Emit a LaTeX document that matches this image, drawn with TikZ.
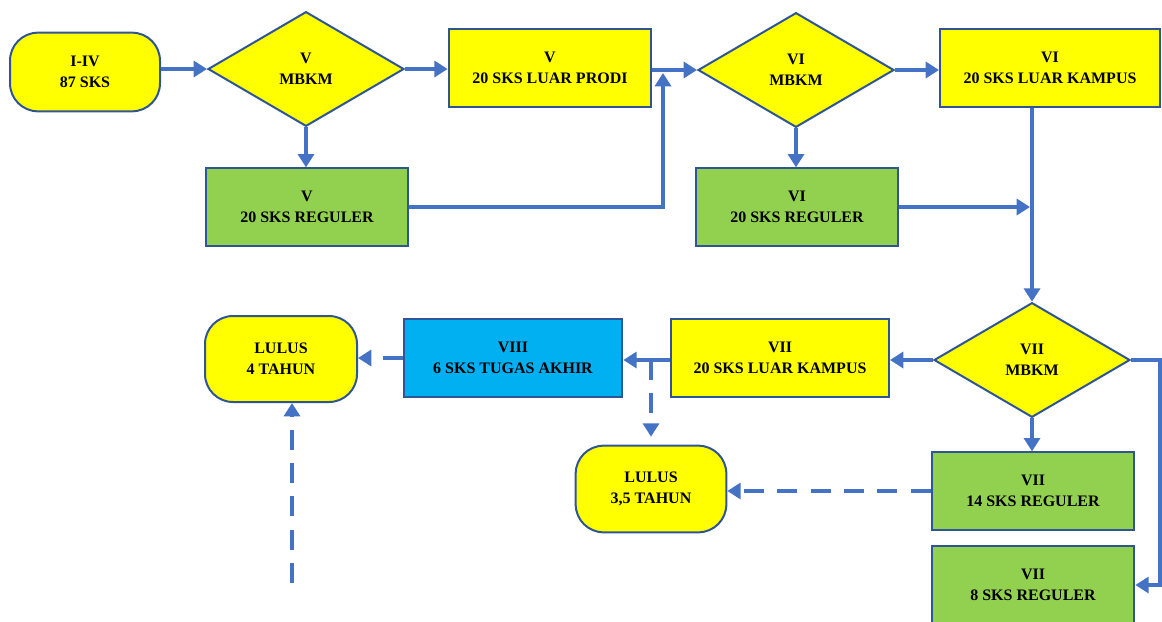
\documentclass[tikz,border=0pt]{standalone}
\usepackage{fontspec}
\setmainfont{Liberation Serif}
\usetikzlibrary{shapes.geometric,arrows.meta}
\definecolor{linkblue}{HTML}{4472C4}
\definecolor{edgeblue}{HTML}{2F5597}
\definecolor{boxyellow}{HTML}{FFFF00}
\definecolor{boxgreen}{HTML}{92D050}
\definecolor{boxcyan}{HTML}{00B0F0}
\begin{document}
\begin{tikzpicture}[x=0.75pt,y=-0.75pt,
 box/.style={draw=edgeblue,line width=1.5pt,align=center,font=\fontsize{12}{15.5}\selectfont\bfseries,inner sep=2pt},
 ybox/.style={box,fill=boxyellow,rectangle},
 gbox/.style={box,fill=boxgreen,rectangle},
 cbox/.style={box,fill=boxcyan,rectangle},
 term/.style={box,fill=boxyellow,rectangle,rounded corners=21pt},
 dec/.style={box,fill=boxyellow,diamond,minimum width=147pt,minimum height=86pt,inner sep=0pt},
 link/.style={draw=linkblue,line width=2.6pt,-{Triangle[length=10pt,width=12pt]}},
 dashlink/.style={link,dash pattern=on 15pt off 10pt}]
\useasboundingbox (0,0) rectangle (1162,621);
% nodes
\node[term,minimum width=112.5pt,minimum height=59pt] (s) at (85,72) {I-IV\\87 SKS};
\node[dec] (d5) at (306,69) {V\\MBKM};
\node[ybox,minimum width=152pt,minimum height=58.5pt] (p5) at (550,68) {V\\20 SKS LUAR PRODI};
\node[gbox,minimum width=151.5pt,minimum height=58pt] (r5) at (307,207) {V\\20 SKS REGULER};
\node[dec] (d6) at (796,70) {VI\\MBKM};
\node[ybox,minimum width=165pt,minimum height=59pt] (k6) at (1050,68) {VI\\20 SKS LUAR KAMPUS};
\node[gbox,minimum width=151.5pt,minimum height=58pt] (r6) at (797,207) {VI\\20 SKS REGULER};
\node[dec] (d7) at (1032,360) {VII\\MBKM};
\node[ybox,minimum width=163.5pt,minimum height=58pt] (k7) at (780,358) {VII\\20 SKS LUAR KAMPUS};
\node[cbox,minimum width=164pt,minimum height=58.5pt] (t8) at (513,358) {VIII\\6 SKS TUGAS AKHIR};
\node[term,minimum width=114pt,minimum height=64.5pt] (l4) at (281,359) {LULUS\\4 TAHUN};
\node[term,minimum width=113pt,minimum height=65pt] (l35) at (651,489) {LULUS\\3,5 TAHUN};
\node[gbox,minimum width=152pt,minimum height=58pt] (r14) at (1033,491) {VII\\14 SKS REGULER};
\node[gbox,minimum width=152pt,minimum height=59pt] (r8) at (1033,585) {VII\\8 SKS REGULER};
% helper coordinates
\coordinate (up5) at (663,73);
\coordinate (m6) at (1030,206);
\coordinate (rc) at (1160,360);
\coordinate (b35) at (651,360);
\coordinate (f4) at (292,583);
% connectors
\draw[link] (d5.west -| s.east) -- (d5.west);
\draw[link] (d5.east) -- (d5.east -| p5.west);
\draw[link] (d5.south) -- (d5.south |- r5.north);
\draw[link] (r5.east) -| (up5);
\draw[link] (d6.west -| p5.east) -- (d6.west);
\draw[link] (d6.east) -- (d6.east -| k6.west);
\draw[link] (d6.south) -- (d6.south |- r6.north);
\draw[link] (r6.east) -- (r6.east -| m6);
\draw[link] (d7.north |- k6.south) -- (d7.north);
\draw[link] (d7.west) -- (d7.west -| k7.east);
\draw[link] (k7.west |- d7.west) -- (t8.east |- d7.west);
\draw[dashlink,shorten >=6pt] (b35) -- (b35 |- l35.north);
\draw[dashlink] (t8.west) -- (t8.west -| l4.east);
\draw[link] (d7.south) -- (d7.south |- r14.north);
\draw[link] (d7.east) -- (rc) -- (rc |- r8.east) -- (r8.east);
\draw[dashlink] (r14.west) -- (r14.west -| l35.east);
\draw[dashlink] (f4) -- (f4 |- l4.south);
\end{tikzpicture}
\end{document}
